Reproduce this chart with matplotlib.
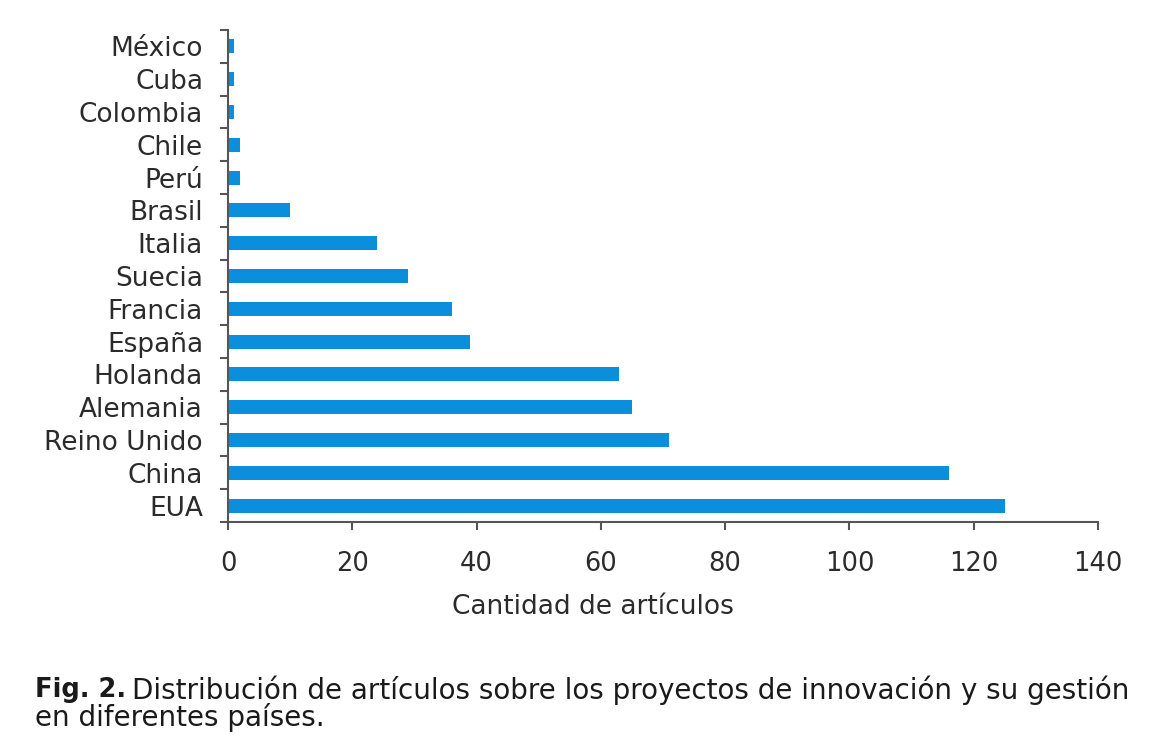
import matplotlib.pyplot as plt
from matplotlib.ticker import FixedLocator, NullFormatter

COUNTRIES = [
    "EUA", "China", "Reino Unido", "Alemania", "Holanda", "España", "Francia",
    "Suecia", "Italia", "Brasil", "Perú", "Chile", "Colombia", "Cuba", "México",
]
ARTICLES = [125, 116, 71, 65, 63, 39, 36, 29, 24, 10, 2, 2, 1, 1, 1]
X_TICKS = [0, 20, 40, 60, 80, 100, 120, 140]

BAR_COLOR = "#0b8fdd"
TEXT_COLOR = "#2b2b2b"
SPINE_COLOR = "#555555"

plt.rcParams.update({"font.family": "DejaVu Sans"})

fig = plt.figure(figsize=(11.61, 7.37), dpi=100)
ax = fig.add_axes([0.1964, 0.2917, 0.7493, 0.6676])

positions = list(range(len(COUNTRIES)))
ax.barh(positions, ARTICLES, height=0.43, color=BAR_COLOR)

ax.set_xlim(0, 140)
ax.set_ylim(-0.5, len(COUNTRIES) - 0.5)

ax.set_xticks(X_TICKS)
ax.set_xticklabels([str(v) for v in X_TICKS])
ax.set_yticks(positions)
ax.set_yticklabels(COUNTRIES)
ax.yaxis.set_minor_locator(FixedLocator([p - 0.5 for p in range(len(COUNTRIES) + 1)]))
ax.yaxis.set_minor_formatter(NullFormatter())

ax.tick_params(axis="y", which="major", length=0, pad=18, labelsize=19, labelcolor=TEXT_COLOR)
ax.tick_params(axis="y", which="minor", length=6, width=1.5, color=SPINE_COLOR)
ax.tick_params(axis="x", which="major", length=6, width=1.5, color=SPINE_COLOR,
               pad=15, labelsize=18.5, labelcolor=TEXT_COLOR)

for side in ("top", "right"):
    ax.spines[side].set_visible(False)
for side in ("left", "bottom"):
    ax.spines[side].set_color(SPINE_COLOR)
    ax.spines[side].set_linewidth(1.5)

ax.set_xlabel("Cantidad de artículos", fontsize=19, color=TEXT_COLOR, va="center")
ax.xaxis.set_label_coords(0.4195, -0.173)

fig.text(0.030, 0.064, "Fig. 2.", fontsize=18.5, fontweight="bold", color="#1a1a1a", va="center")
fig.text(0.1137, 0.064,
         "Distribución de artículos sobre los proyectos de innovación y su gestión",
         fontsize=20, color="#1a1a1a", va="center")
fig.text(0.030, 0.026, "en diferentes países.", fontsize=20, color="#1a1a1a", va="center")

fig.savefig("out.png", dpi=100)
